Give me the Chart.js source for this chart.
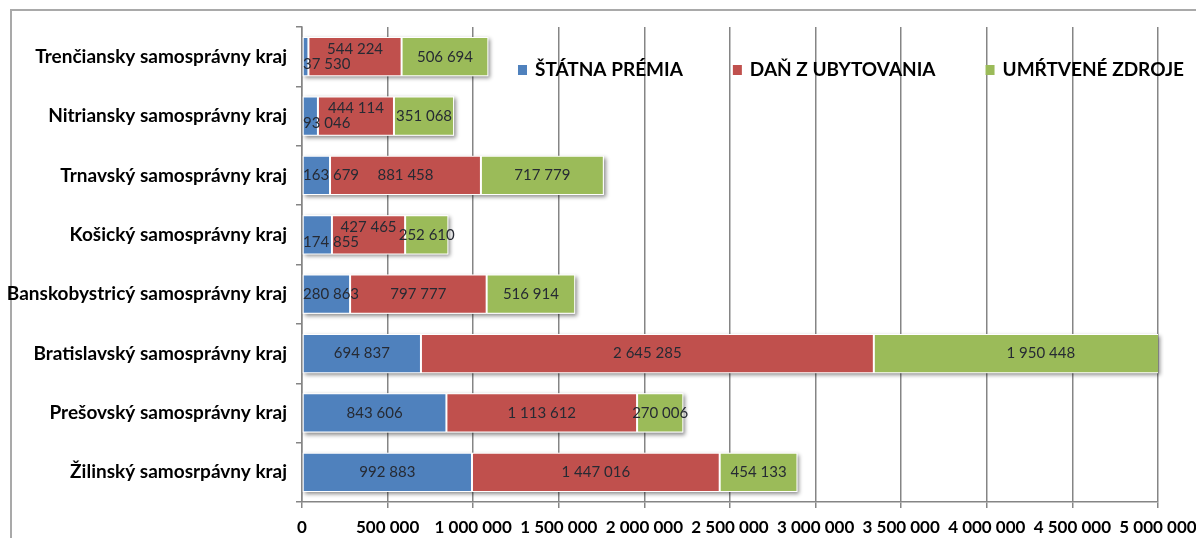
<!DOCTYPE html>
<html>
<head>
<meta charset="utf-8">
<script src="https://cdn.jsdelivr.net/npm/chart.js@4"></script>
<style>
  body { margin: 0; overflow: hidden; background: #fff; }
  #frame { position: absolute; left: 10px; top: 9px; width: 1200px; height: 600px; border: 2px solid #a9a9a9; }
  #wrap { position: absolute; left: 0; top: 0; width: 1196px; height: 538px; }
</style>
</head>
<body>
<div id="frame"></div>
<div id="wrap"><canvas id="chart"></canvas></div>
<script>
var categories = [
	'Trenčiansky samosprávny kraj',
	'Nitriansky samosprávny kraj',
	'Trnavský samosprávny kraj',
	'Košický samosprávny kraj',
	'Banskobystricý samosprávny kraj',
	'Bratislavský samosprávny kraj',
	'Prešovský samosprávny kraj',
	'Žilinský samosrpávny kraj'
];
var seriesNames = ['ŠTÁTNA PRÉMIA', 'DAŇ Z UBYTOVANIA', 'UMŔTVENÉ ZDROJE'];
var statnaPremia = [37530, 93046, 163679, 174855, 280863, 694837, 843606, 992883];
var danZUbytovania = [544224, 444114, 881458, 427465, 797777, 2645285, 1113612, 1447016];
var umrtveneZdroje = [506694, 351068, 717779, 252610, 516914, 1950448, 270006, 454133];
var xTicks = [0, 500000, 1000000, 1500000, 2000000, 2500000, 3000000, 3500000, 4000000, 4500000, 5000000];

var colors = ['#4f81bd', '#c0504d', '#9bbb59'];

function fmt(v) {
	return String(v).replace(/\B(?=(\d{3})+(?!\d))/g, ' ');
}

// soft drop shadow under each whole stacked bar
var barShadow = {
	id: 'barShadow',
	beforeDatasetsDraw(chart) {
		var ctx = chart.ctx;
		var area = chart.chartArea;
		var metas = chart.getSortedVisibleDatasetMetas();
		ctx.save();
		ctx.beginPath();
		ctx.rect(area.left, area.top, area.right - area.left + 6, area.bottom - area.top);
		ctx.clip();
		for (var i = 0; i < categories.length; i++) {
			var left = Infinity, right = -Infinity, top = 0, h = 0;
			metas.forEach(function (m) {
				var el = m.data[i];
				left = Math.min(left, el.base, el.x);
				right = Math.max(right, el.base, el.x);
				top = el.y - el.height / 2;
				h = el.height;
			});
			right = Math.min(right, area.right);
			ctx.shadowColor = 'rgba(0,0,0,0.45)';
			ctx.shadowBlur = 4;
			ctx.shadowOffsetX = 2;
			ctx.shadowOffsetY = 2;
			ctx.fillStyle = '#fff';
			ctx.fillRect(left, top, right - left, h);
		}
		ctx.restore();
	}
};

// value labels centred in segments, split up/down when they collide
var valueLabels = {
	id: 'valueLabels',
	afterDatasetsDraw(chart) {
		var ctx = chart.ctx;
		var area = chart.chartArea;
		ctx.save();
		ctx.font = '15px Lato';
		ctx.fillStyle = '#262a33';
		ctx.textAlign = 'center';
		ctx.textBaseline = 'middle';
		for (var i = 0; i < categories.length; i++) {
			var items = [];
			chart.data.datasets.forEach(function (ds, d) {
				var el = chart.getDatasetMeta(d).data[i];
				var text = fmt(ds.data[i]);
				var w = ctx.measureText(text).width;
				var cx = (el.x + el.base) / 2;
				if (cx - w / 2 < area.left + 1) cx = area.left + 1 + w / 2;
				items.push({ text: text, x: cx, y: el.y, w: w, dy: 0 });
			});
			for (var k = 0; k < items.length - 1; k++) {
				var a = items[k], b = items[k + 1];
				if (a.dy === 0 && b.dy === 0 && a.x + a.w / 2 > b.x - b.w / 2 - 1) {
					a.dy = 7.5;
					b.dy = -7.5;
				}
			}
			items.forEach(function (it) {
				ctx.fillText(it.text, it.x, it.y + it.dy);
			});
		}
		ctx.restore();
	}
};

// legend drawn inside the plot, top right
var insideLegend = {
	id: 'insideLegend',
	afterDraw(chart) {
		var ctx = chart.ctx;
		ctx.save();
		ctx.font = 'bold 19px Lato';
		ctx.textBaseline = 'middle';
		var box = 9, gapBox = 8, gapItem = 50;
		var widths = seriesNames.map(function (n) { return ctx.measureText(n).width; });
		var total = 0;
		widths.forEach(function (w, i) { total += box + gapBox + w + (i < widths.length - 1 ? gapItem : 0); });
		var x = 1184 - total;
		var y = 70;
		seriesNames.forEach(function (n, i) {
			ctx.fillStyle = colors[i];
			ctx.fillRect(x, y - 5, box, box + 1);
			ctx.fillStyle = '#000';
			ctx.fillText(n, x + box + gapBox, y);
			x += box + gapBox + widths[i] + gapItem;
		});
		ctx.restore();
	}
};

var chart = new Chart(document.getElementById('chart'), {
	type: 'bar',
	data: {
		labels: categories,
		datasets: [
			{ label: seriesNames[0], data: statnaPremia, backgroundColor: colors[0] },
			{ label: seriesNames[1], data: danZUbytovania, backgroundColor: colors[1] },
			{ label: seriesNames[2], data: umrtveneZdroje, backgroundColor: colors[2] }
		].map(function (ds) {
			ds.borderColor = '#ffffff';
			ds.borderWidth = 1;
			ds.borderSkipped = false;
			ds.categoryPercentage = 1;
			ds.barPercentage = 0.66;
			return ds;
		})
	},
	options: {
		indexAxis: 'y',
		responsive: true,
		maintainAspectRatio: false,
		animation: false,
		layout: { padding: { top: 27, left: 0, right: 38, bottom: 0 } },
		plugins: {
			legend: { display: false },
			tooltip: { enabled: false }
		},
		scales: {
			x: {
				stacked: true,
				min: 0,
				max: 5000000,
				afterBuildTicks: function (scale) {
					scale.ticks = xTicks.map(function (v) { return { value: v }; });
				},
				afterFit: function (scale) {
					scale.height = 36;
					scale.paddingLeft = 0;
					scale.paddingRight = 0;
				},
				grid: { color: '#858585', lineWidth: 1.5, tickLength: 6 },
				border: { display: true, color: '#858585', width: 1.5 },
				ticks: {
					maxRotation: 0,
					autoSkip: false,
					padding: 9,
					color: '#000',
					font: { family: 'Lato', weight: 'bold', size: 17 },
					callback: function (v) { return fmt(v); }
				}
			},
			y: {
				stacked: true,
				afterFit: function (scale) { scale.width = 302; },
				grid: { drawOnChartArea: false, drawTicks: true, tickLength: 6, color: '#858585', lineWidth: 1.5, offset: true },
				border: { display: true, color: '#858585', width: 1.5 },
				ticks: {
					padding: 9,
					color: '#000',
					font: { family: 'Lato', weight: 'bold', size: 19 }
				}
			}
		}
	},
	plugins: [barShadow, valueLabels, insideLegend]
});
</script>
</body>
</html>
